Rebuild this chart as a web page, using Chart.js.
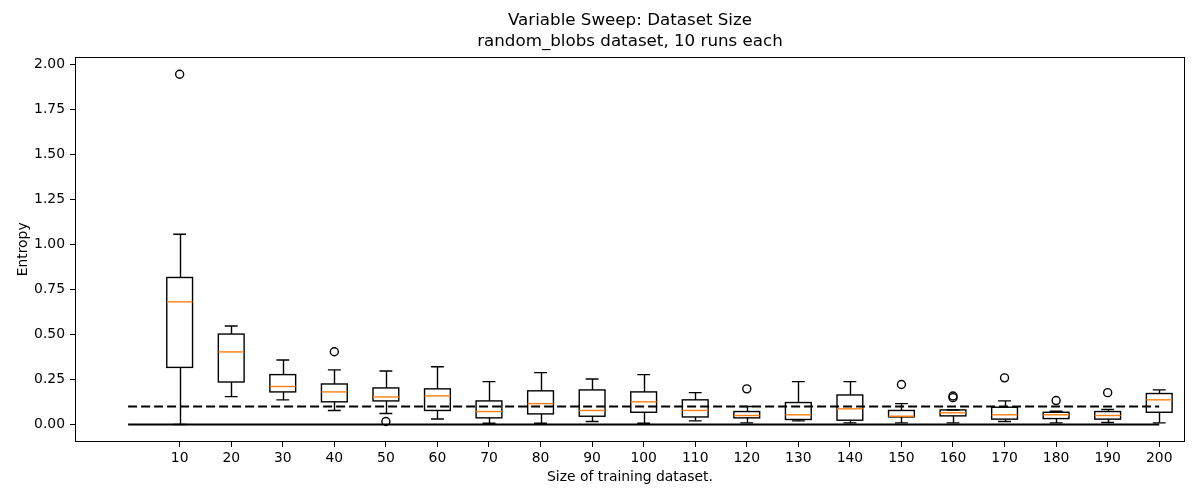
<!DOCTYPE html>
<html>
<head>
<meta charset="utf-8">
<script src="https://cdn.jsdelivr.net/npm/chart.js@4"></script>
<style>
  html, body { margin: 0; padding: 0; background: #fff; }
  canvas { display: block; }
</style>
</head>
<body>
<canvas id="sweep" width="1200" height="500"></canvas>
<script>
// Valeurs (une boîte par taille de dataset)
const sizes = [10, 20, 30, 40, 50, 60, 70, 80, 90, 100, 110, 120, 130, 140, 150, 160, 170, 180, 190, 200];
const whiskLow = [0.000, 0.155, 0.137, 0.078, 0.061, 0.031, 0.007, 0.007, 0.017, 0.007, 0.020, 0.009, 0.020, 0.009, 0.009, 0.009, 0.017, 0.009, 0.011, 0.009];
const q1       = [0.317, 0.236, 0.181, 0.126, 0.131, 0.078, 0.037, 0.059, 0.046, 0.068, 0.042, 0.037, 0.028, 0.024, 0.042, 0.048, 0.030, 0.033, 0.030, 0.068];
const medians  = [0.681, 0.403, 0.211, 0.181, 0.153, 0.159, 0.072, 0.116, 0.078, 0.126, 0.078, 0.050, 0.054, 0.087, 0.046, 0.065, 0.054, 0.054, 0.050, 0.137];
const q3       = [0.816, 0.502, 0.277, 0.225, 0.203, 0.198, 0.131, 0.187, 0.192, 0.181, 0.137, 0.072, 0.122, 0.164, 0.078, 0.081, 0.096, 0.068, 0.072, 0.172];
const whiskHigh= [1.056, 0.547, 0.358, 0.303, 0.297, 0.321, 0.238, 0.288, 0.253, 0.277, 0.177, 0.100, 0.238, 0.238, 0.116, 0.081, 0.131, 0.074, 0.083, 0.192];
const outliers = [[1.944], [], [], [0.404], [0.017], [], [], [], [], [], [], [0.198], [], [], [0.222], [0.149, 0.158], [0.259], [0.133], [0.177], []];

const yTicks = [0.00, 0.25, 0.50, 0.75, 1.00, 1.25, 1.50, 1.75, 2.00];
const baseline = 0.0;   // ligne pleine
const threshold = 0.1;  // ligne pointillée

const FONT = 'DejaVu Sans';

// Points des outliers (x = position de la boîte)
const flierPoints = [];
outliers.forEach((list, i) => list.forEach(v => flierPoints.push({ x: i + 1, y: v })));

// Dessin des boîtes à moustaches via les échelles de Chart.js
const boxPlugin = {
    id: 'boxes',
    afterDatasetsDraw(chart) {
        const { ctx, scales: { x, y } } = chart;
        ctx.save();
        ctx.lineWidth = 1.4;
        const halfBox = 0.25, halfCap = 0.125;
        sizes.forEach((s, i) => {
            const pos = i + 1;
            const xc = Math.round(x.getPixelForValue(pos)) + 0.5;
            const xl = x.getPixelForValue(pos - halfBox);
            const xr = x.getPixelForValue(pos + halfBox);
            const cl = x.getPixelForValue(pos - halfCap);
            const cr = x.getPixelForValue(pos + halfCap);
            const yLo = y.getPixelForValue(whiskLow[i]);
            const yQ1 = y.getPixelForValue(q1[i]);
            const yMed = y.getPixelForValue(medians[i]);
            const yQ3 = y.getPixelForValue(q3[i]);
            const yHi = y.getPixelForValue(whiskHigh[i]);

            ctx.strokeStyle = '#000';
            // moustaches
            ctx.beginPath();
            ctx.moveTo(xc, yQ1); ctx.lineTo(xc, yLo);
            ctx.moveTo(xc, yQ3); ctx.lineTo(xc, yHi);
            // caps
            ctx.moveTo(cl, yLo); ctx.lineTo(cr, yLo);
            ctx.moveTo(cl, yHi); ctx.lineTo(cr, yHi);
            ctx.stroke();
            // boîte
            ctx.strokeRect(xl, yQ3, xr - xl, yQ1 - yQ3);
            // médiane
            ctx.strokeStyle = '#ff7f0e';
            ctx.beginPath();
            ctx.moveTo(xl, yMed); ctx.lineTo(xr, yMed);
            ctx.stroke();
        });
        ctx.restore();
    },
    afterDraw(chart) {
        // cadre complet autour de la zone de tracé
        const { ctx, chartArea: a } = chart;
        ctx.save();
        ctx.strokeStyle = '#000';
        ctx.lineWidth = 1;
        ctx.strokeRect(Math.round(a.left) + 0.5, Math.round(a.top) + 0.5,
            Math.round(a.right - a.left) - 1, Math.round(a.bottom - a.top) - 1);
        ctx.restore();
    }
};

const ctx = document.getElementById('sweep').getContext('2d');
new Chart(ctx, {
    type: 'scatter',
    data: {
        datasets: [
            {
                type: 'line',
                data: [{ x: 0, y: baseline }, { x: sizes.length, y: baseline }],
                borderColor: '#000',
                borderWidth: 2,
                pointRadius: 0
            },
            {
                type: 'line',
                data: [{ x: 0, y: threshold }, { x: sizes.length, y: threshold }],
                borderColor: '#000',
                borderWidth: 2,
                borderDash: [9, 4],
                pointRadius: 0
            },
            {
                data: flierPoints,
                pointStyle: 'circle',
                pointRadius: 4,
                borderWidth: 1.4,
                borderColor: '#000',
                backgroundColor: 'rgba(0,0,0,0)'
            }
        ]
    },
    options: {
        responsive: false,
        animation: false,
        layout: { padding: { left: 0, right: 15, top: 0, bottom: 0 } },
        plugins: {
            legend: { display: false },
            tooltip: { enabled: false },
            title: {
                display: true,
                fullSize: false,
                text: ['Variable Sweep: Dataset Size', 'random_blobs dataset, 10 runs each'],
                color: '#000',
                font: { family: FONT, size: 16.7, weight: 'normal', lineHeight: 1.25 },
                padding: { top: 10, bottom: 5 }
            }
        },
        scales: {
            x: {
                type: 'linear',
                min: -1.03,
                max: 20.5,
                afterBuildTicks: (scale) => { scale.ticks = sizes.map((s, i) => ({ value: i + 1 })); },
                afterFit: (scale) => { scale.height = 58; },
                ticks: {
                    color: '#000',
                    font: { family: FONT, size: 13.9 },
                    padding: 3,
                    maxRotation: 0,
                    autoSkip: false,
                    callback: (v) => sizes[Math.round(v) - 1]
                },
                grid: { display: true, drawOnChartArea: false, drawTicks: true, tickLength: 5, color: '#000' },
                border: { display: false },
                title: {
                    display: true,
                    text: 'Size of training dataset.',
                    color: '#000',
                    font: { family: FONT, size: 13.9 },
                    padding: { top: 0, bottom: 14 }
                }
            },
            y: {
                min: -0.097,
                max: 2.041,
                afterBuildTicks: (scale) => { scale.ticks = yTicks.map(v => ({ value: v })); },
                afterFit: (scale) => { scale.width = 75; },
                ticks: {
                    color: '#000',
                    font: { family: FONT, size: 13.9 },
                    padding: 5,
                    callback: (v) => v.toFixed(2)
                },
                grid: { display: true, drawOnChartArea: false, drawTicks: true, tickLength: 5, color: '#000' },
                border: { display: false },
                title: {
                    display: true,
                    text: 'Entropy',
                    color: '#000',
                    font: { family: FONT, size: 13.9 },
                    padding: { top: 15, bottom: 0 }
                }
            }
        }
    },
    plugins: [boxPlugin]
});
</script>
</body>
</html>
